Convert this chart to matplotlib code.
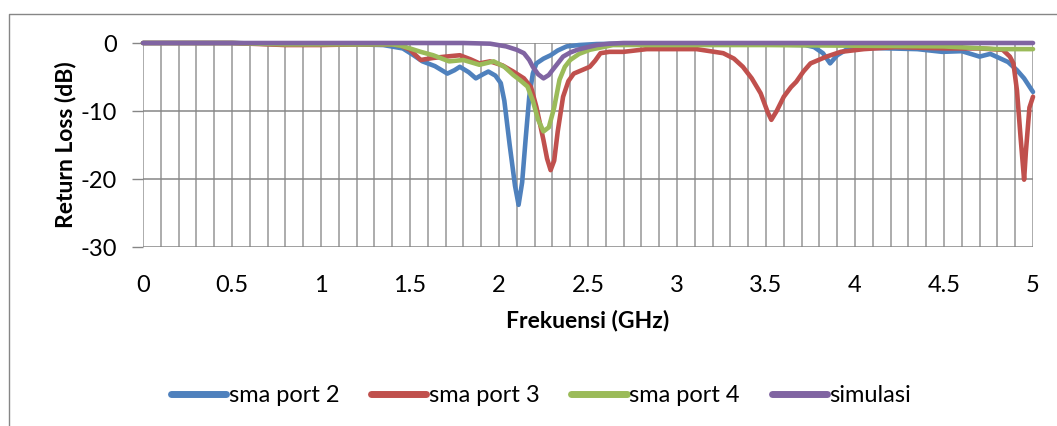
import matplotlib
matplotlib.use('Agg')
import matplotlib.pyplot as plt
from matplotlib.lines import Line2D

# values (GHz, dB)
port2_x = [0, 0.5, 0.8, 1.0, 1.2, 1.35, 1.46, 1.52, 1.57, 1.64, 1.71, 1.75, 1.78, 1.83,
           1.87, 1.91, 1.94, 1.98, 2.01, 2.03, 2.06, 2.09, 2.11, 2.13, 2.15, 2.17, 2.19,
           2.21, 2.25, 2.29, 2.33, 2.38, 2.45, 2.55, 2.7, 3.0, 3.5, 3.72, 3.77, 3.82,
           3.86, 3.9, 3.95, 4.05, 4.2, 4.35, 4.49, 4.6, 4.7, 4.76, 4.81, 4.86, 4.91,
           4.95, 5.0]
port2_y = [0, 0, -0.2, -0.2, -0.2, -0.3, -0.8, -1.8, -2.7, -3.4, -4.5, -4.0, -3.5, -4.3,
           -5.2, -4.6, -4.2, -4.8, -5.9, -8.5, -15.0, -21.0, -23.8, -20.5, -14.0, -7.9,
           -4.5, -3.0, -2.3, -1.8, -1.1, -0.5, -0.3, -0.15, -0.1, -0.1, -0.2, -0.3, -0.6,
           -1.5, -3.0, -1.8, -1.0, -0.7, -0.8, -0.9, -1.3, -1.2, -2.0, -1.6, -2.2, -2.8,
           -4.0, -5.2, -7.2]

port3_x = [0, 0.5, 0.8, 1.0, 1.2, 1.4, 1.45, 1.5, 1.56, 1.63, 1.7, 1.78, 1.84, 1.89,
           1.95, 2.02, 2.08, 2.14, 2.18, 2.21, 2.25, 2.27, 2.29, 2.31, 2.33, 2.36, 2.39,
           2.42, 2.51, 2.54, 2.57, 2.62, 2.7, 2.83, 3.11, 3.26, 3.32, 3.37, 3.42, 3.47,
           3.51, 3.53, 3.56, 3.6, 3.64, 3.67, 3.71, 3.75, 3.84, 3.92, 4.05, 4.23, 4.51,
           4.7, 4.83, 4.87, 4.89, 4.91, 4.93, 4.95, 4.96, 4.98, 5.0]
port3_y = [0, 0, -0.3, -0.3, -0.2, -0.2, -0.4, -1.0, -2.5, -2.2, -2.0, -1.8, -2.4, -3.0,
           -2.7, -3.3, -4.2, -5.2, -6.5, -9.4, -14.3, -17.0, -18.7, -17.3, -13.0, -7.9,
           -5.6, -4.5, -3.5, -2.6, -1.5, -1.3, -1.3, -0.9, -0.9, -1.5, -2.3, -3.5, -5.2,
           -7.4, -10.2, -11.3, -10.0, -7.9, -6.5, -5.7, -4.2, -3.0, -2.0, -1.3, -0.9,
           -0.6, -0.8, -0.8, -1.0, -2.0, -3.0, -7.0, -13.8, -20.1, -16.0, -9.5, -7.9]

port4_x = [0, 0.5, 0.8, 1.0, 1.2, 1.4, 1.45, 1.5, 1.56, 1.63, 1.72, 1.8, 1.89, 1.97,
           2.03, 2.08, 2.12, 2.16, 2.19, 2.22, 2.25, 2.28, 2.31, 2.34, 2.37, 2.4, 2.45,
           2.51, 2.64, 3.0, 3.5, 4.0, 4.5, 4.8, 5.0]
port4_y = [0, 0, -0.2, -0.2, -0.2, -0.2, -0.4, -0.8, -1.3, -1.8, -2.7, -2.5, -3.2, -2.7,
           -3.5, -4.7, -5.5, -6.4, -8.5, -11.3, -13.0, -12.4, -9.5, -5.4, -3.5, -2.5,
           -1.6, -1.0, -0.3, -0.3, -0.3, -0.4, -0.5, -0.9, -0.9]

sim_x = [0, 1.0, 1.8, 1.95, 2.04, 2.1, 2.14, 2.17, 2.19, 2.22, 2.25, 2.28, 2.3, 2.33,
         2.36, 2.4, 2.44, 2.5, 2.55, 2.62, 2.7, 3.0, 4.0, 5.0]
sim_y = [0, 0, 0, -0.1, -0.5, -1.0, -1.5, -2.5, -3.5, -4.6, -5.2, -4.7, -4.0, -3.0,
         -2.0, -1.4, -1.0, -0.6, -0.3, -0.1, 0, 0, 0, 0]

labels = ['sma port 2', 'sma port 3', 'sma port 4', 'simulasi']
colors = ['#4F81BD', '#C0504D', '#9BBB59', '#8064A2']

plt.rcParams['font.family'] = ['Lato', 'DejaVu Sans']
plt.rcParams['axes.unicode_minus'] = False

fig = plt.figure(figsize=(10.57, 4.26), dpi=100)
ax = fig.add_axes([143 / 1057, 1 - 247 / 426, 890 / 1057, 204 / 426])

series = [(port2_x, port2_y), (port3_x, port3_y), (port4_x, port4_y), (sim_x, sim_y)]
for (xs, ys), c, lab in zip(series, colors, labels):
    ax.plot(xs, ys, color=c, lw=3.3, label=lab, solid_capstyle='round',
            solid_joinstyle='round', clip_on=False, zorder=3)

ax.set_xlim(0, 5)
ax.set_ylim(-30, 0)
ax.set_xticks([0, 0.5, 1, 1.5, 2, 2.5, 3, 3.5, 4, 4.5, 5])
ax.set_xticklabels(['0', '0.5', '1', '1.5', '2', '2.5', '3', '3.5', '4', '4.5', '5'])
ax.set_xticks([i / 10 for i in range(51)], minor=True)
ax.set_yticks([0, -10, -20, -30])
ax.grid(True, which='both', axis='x', color='#969696', lw=1.1)
ax.grid(True, which='major', axis='y', color='#868686', lw=1.1)
ax.set_axisbelow(True)
for s in ax.spines.values():
    s.set_visible(False)
ax.tick_params(axis='x', which='both', length=0, pad=20, labelsize=17)
ax.tick_params(axis='y', length=8, width=1, color='#868686', pad=11, labelsize=17)

ax.set_ylabel('Return Loss (dB)', fontsize=16.5, fontweight='bold', labelpad=3)
ax.set_xlabel('Frekuensi (GHz)', fontsize=16.5, fontweight='bold', labelpad=10)

handles = [Line2D([], [], color=c, lw=5, solid_capstyle='round') for c in colors]
fig.legend(handles, labels, loc='center', bbox_to_anchor=(541 / 1057, 1 - 396 / 426),
           ncol=4, frameon=False, fontsize=17, handlelength=2.35, handletextpad=0.1,
           columnspacing=1.35)

# chart frame (left and top edges visible)
fig.add_artist(Line2D([9 / 1057, 9 / 1057, 1.0], [0, 1 - 14 / 426, 1 - 14 / 426],
                      color='#868686', lw=1))

fig.savefig('out.png', dpi=100)
